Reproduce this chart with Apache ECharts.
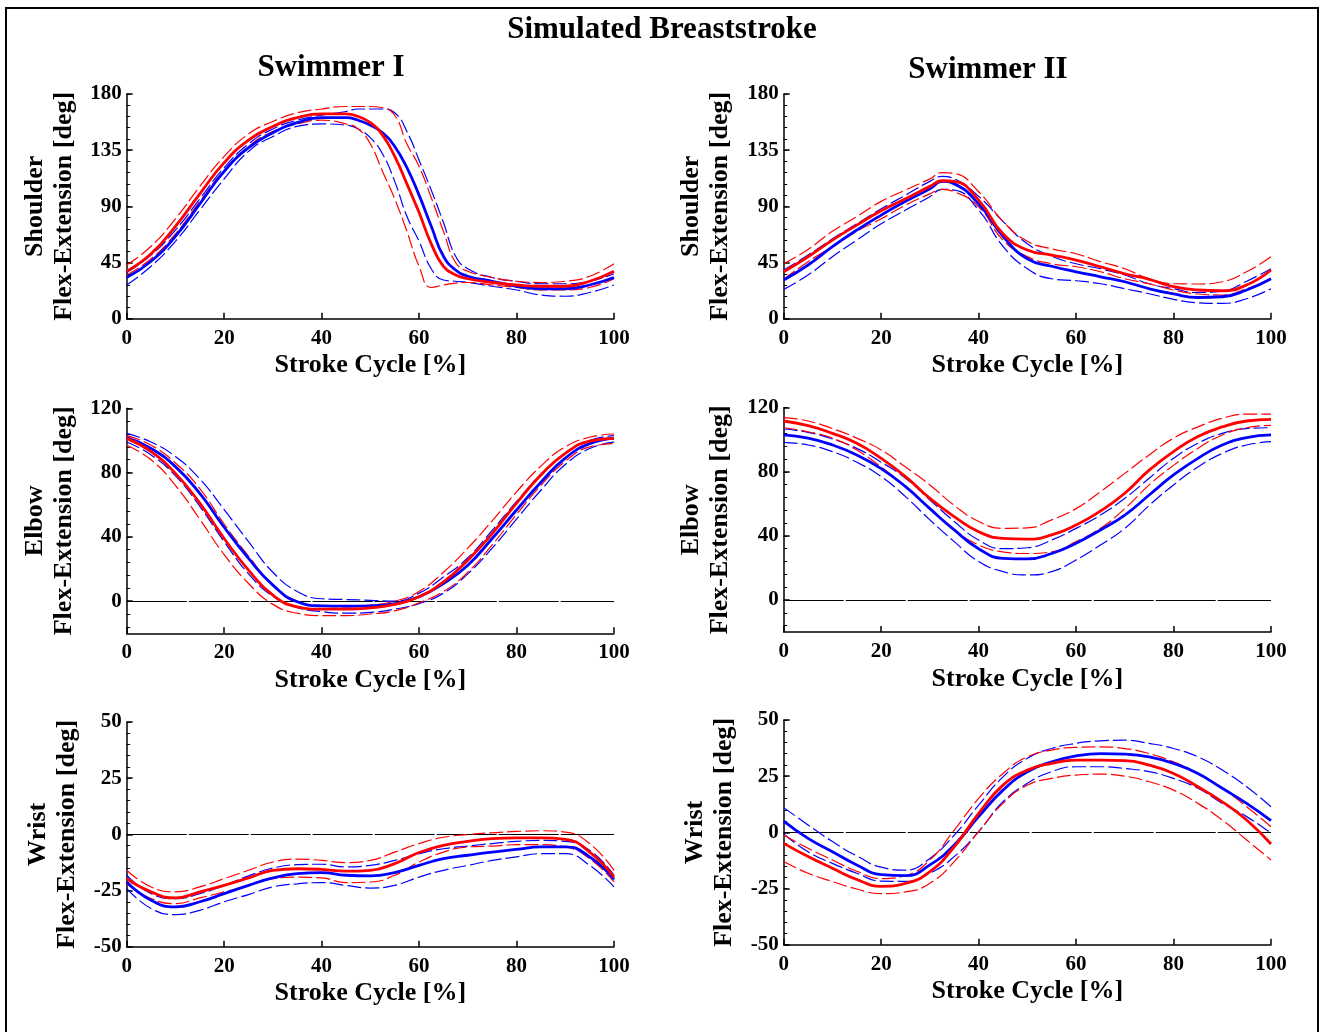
<!DOCTYPE html>
<html><head><meta charset="utf-8">
<script src="https://cdn.jsdelivr.net/npm/echarts@6/dist/echarts.min.js"></script>
<style>html,body{margin:0;padding:0;background:#fff}#c{width:1321px;height:1032px}</style>
</head><body><div id="c"></div>
<script>
// ---------- categories / x values (stroke cycle %) ----------
const strokePct = [0,5,10,15,20,25,30,35,40,45,50,55,60,65,70,75,80,85,90,95,100];
const strokePctShoulderI = [0,5,10,15,20,25,30,35,40,45,47.5,50,52.5,55,57.5,60,62.5,65,67.5,70,75,80,85,90,95,100];
const strokePctShoulderII = [0,5,10,15,20,25,30,32.5,35,40,45,50,55,60,65,70,75,80,85,90,95,100];

// ---------- tick labels ----------
const strokeTicks = [0,20,40,60,80,100];
const shoulderTicks = [0,45,90,135,180];
const elbowTicks = [0,40,80,120];
const wristTicks = [-50,-25,0,25,50];

// ---------- Swimmer I : Shoulder ----------
const s1ShoulderBlueMean  = [33,46,66,92,118,137,149,157,161,161,159,155,149,138,121,99,74,50,39,34,30,26,24,24,27,33];
const s1ShoulderBlueUpper = [37,51,71,96,121,140,152,159,163,166,168,168,168,165,150,127,103,77,50,40,33,30,28,28,30,36];
const s1ShoulderBlueLower = [27,42,62,87,112,134,146,154,156,155,152,145,132,110,82,62,40,31,30,29,26,23,19,18,21,27];
const s1ShoulderRedMean   = [38,52,74,100,125,143,154,161,164,164,162,157,147,130,108,85,60,42,35,32,29,27,26,26,30,38];
const s1ShoulderRedUpper  = [43,58,80,106,130,148,158,165,168,170,170,170,169,163,140,122,97,70,45,38,33,30,29,30,34,44];
const s1ShoulderRedLower  = [35,48,68,94,119,138,150,156,159,156,152,140,118,96,70,42,25,27,28.5,29,27,25,23,23,25,32];

// ---------- Swimmer II : Shoulder ----------
const s2ShoulderBlueMean  = [31,43,57.7,71,83,94,104,110,108,92,66,48,42,37.6,33.6,29.6,24,19.8,17,17.6,23,32];
const s2ShoulderBlueUpper = [39,51,64,76,88,99,110,114,112,98,78,60,50,44,40,35,28,24,21,22,30,40];
const s2ShoulderBlueLower = [23.5,35,49.7,63,76,87,97.7,103.6,103,87,58,40,32,30.4,28,24,20,15.5,12.8,12.3,16,24];
const s2ShoulderRedMean   = [37.6,49.6,63,75,86.5,96,106,110.5,110,95,68,55,51,47,41.6,36,31.5,25.6,23,22.4,27,39];
const s2ShoulderRedUpper  = [44,55.5,70,81.7,94,103,112,117,116.4,101.7,78,62,56,52,45.7,40,32,28,27.8,29.6,37.6,49.7];
const s2ShoulderRedLower  = [31.5,45.7,57.7,70,80,91,100,103.6,101.7,89.7,63,49.7,44,41.6,37.6,32,28,23,19.8,19,24,32];

// ---------- Swimmer I : Elbow ----------
const s1ElbowBlueMean  = [101.7,95,83.7,67,46,26.6,10,-0.4,-2.9,-3.1,-2.9,-1.5,2.7,11,22.4,39,56.7,74,89,98,101.3];
const s1ElbowBlueUpper = [104.4,99,90,76,57,37,18,6,1.5,1,0.5,0,5,15,27,44,62,79,92,100,103];
const s1ElbowBlueLower = [99,91,78,59,37,17,3,-4,-6.5,-7.5,-7,-5,-1.5,5,17,33,51,69,85,95,99];
const s1ElbowRedMean   = [101.3,93,79.5,61,39,19.3,3.7,-3.5,-5,-5,-4.2,-2,2.7,12,25.5,42,61,78.5,92,99.6,101.3];
const s1ElbowRedUpper  = [103,97,86,70,48,28,10,0,-3,-3.5,-2.5,0,6,18,33,50,68,84,96,102,104];
const s1ElbowRedLower  = [97,88,72,51,29,11,-2,-7.5,-9,-9,-8,-6,-1,6,18,35,54,72,87,96,98];

// ---------- Swimmer II : Elbow ----------
const s2ElbowBlueMean  = [103,101,96.7,90.5,82,70.7,57,43.7,32,26,25.6,29,35.4,43.7,53,65.5,78,88.4,96.7,101.3,103];
const s2ElbowBlueUpper = [106.7,104.6,100.5,94.6,86,76,62.4,49,37.4,32,32.6,37.4,44.7,53,63.4,76,88.4,97.8,104,107,107.5];
const s2ElbowBlueLower = [98.4,96.7,92.6,86,77,64.5,50,36.4,24,17.7,15.6,17.7,25,34.3,44.7,59,71.8,83,91.5,96.7,98.8];
const s2ElbowRedMean   = [111.7,108.8,104,97.8,88.4,77,63.4,52,42.6,38.5,38,40.6,46.8,55.5,66.6,81,92.6,102,108,111.7,112.7];
const s2ElbowRedUpper  = [113.8,111.7,107,101,93.6,83,71.8,59,49,44.7,45,50,57,67.6,79,90.5,101,108,113.4,116,116];
const s2ElbowRedLower  = [107.5,105,101,93.6,83,70.7,57,43.7,34.3,30,29,30,36.4,44.7,57,71.8,84,94.6,103,107.5,109];

// ---------- Swimmer I : Wrist ----------
const s1WristBlueMean  = [-21.2,-29.3,-32.3,-30,-26.4,-22.7,-19.4,-17.5,-17,-18.2,-18.5,-17,-13.8,-10.8,-9.3,-7.9,-6.7,-5.6,-5.6,-10,-20];
const s1WristBlueUpper = [-18.2,-26.4,-28.6,-26.4,-22.7,-18.5,-15,-13.5,-13.3,-14.5,-13.8,-11.6,-8.6,-6.4,-5.2,-4.1,-3.1,-2.7,-3.1,-7.1,-18.2];
const s1WristBlueLower = [-24,-33,-35.7,-33.8,-30,-26.8,-23.4,-22,-21.5,-22.7,-23.9,-22.7,-19,-16,-13.8,-11.6,-10,-8.6,-8.6,-13.8,-23.4];
const s1WristRedMean   = [-19.7,-25.6,-28.3,-25.6,-22.7,-19.4,-16,-15.3,-15.6,-16.4,-16,-13,-8.1,-4.9,-3.1,-1.9,-1.6,-1.6,-2.2,-7.9,-19];
const s1WristRedUpper  = [-16,-23.4,-25.6,-23.4,-19.7,-16,-12.3,-11,-11.6,-12.6,-11.6,-7.9,-4.1,-1.3,-0.1,0.7,1.3,1.6,1,-4.1,-16];
const s1WristRedLower  = [-22,-28.6,-30.8,-28.3,-25.6,-22.7,-19.7,-19,-19.4,-21.5,-21.2,-18.2,-12.3,-7.9,-5.6,-5.2,-4.6,-4.6,-5.6,-10.8,-21.2];

// ---------- Swimmer II : Wrist ----------
const s2WristBlueMean  = [5,-2.7,-8.6,-14.5,-18.8,-19.3,-14.5,-5.6,7,18.8,27,31.4,34,35,34.8,33.6,30.7,26.2,19.6,12.9,5.2];
const s2WristBlueUpper = [11,3.3,-4.1,-10.5,-15.5,-16.8,-11.6,-1.2,12.1,24.7,33,37.3,39.6,40.7,41,39.6,37.3,33.6,27.7,20.3,11.4];
const s2WristBlueLower = [-0.7,-8.6,-13.8,-18.2,-21.7,-21.8,-18.2,-10.8,0.3,13.6,21.8,27,29.2,29.2,28.4,27,24,19.6,12.9,7,-0.4];
const s2WristRedMean   = [-4.9,-10.8,-16,-21,-24,-22.7,-17.5,-6.4,8.4,21,27.7,30.7,32.1,32.1,31.9,29.9,26.2,20.3,13.6,5.5,-5.2];
const s2WristRedUpper  = [-1.2,-7.1,-12.3,-17.3,-20.6,-19.2,-12.3,1,15.1,26.2,33.6,36.6,37.8,38,37.3,35,31.4,26.2,19.6,11.4,2.5];
const s2WristRedLower  = [-13,-18.2,-21.9,-25.2,-27.3,-26.5,-22.7,-13,0.3,12.9,21,24,25.5,25.9,25,22.5,18.8,12.9,5.5,-3.4,-12.3];

// ---------- layout (positions / styles only) ----------
const FONT = "'Liberation Serif','Times New Roman',serif";
const panels = [
  {left:126.7, top:94,  w:487.3, h:224.7, min:0,   max:180, ticks:shoulderTicks, minorStep:9, name:'Shoulder\nFlex-Extension [deg]', gap:48, x:strokePctShoulderI,
   d:[s1ShoulderBlueUpper,s1ShoulderBlueLower,s1ShoulderRedUpper,s1ShoulderRedLower,s1ShoulderBlueMean,s1ShoulderRedMean], zero:false},
  {left:783.7, top:94,  w:487.3, h:224.7, min:0,   max:180, ticks:shoulderTicks, minorStep:9, name:'Shoulder\nFlex-Extension [deg]', gap:49, x:strokePctShoulderII,
   d:[s2ShoulderBlueUpper,s2ShoulderBlueLower,s2ShoulderRedUpper,s2ShoulderRedLower,s2ShoulderBlueMean,s2ShoulderRedMean], zero:false},
  {left:126.7, top:408.3, w:487.3, h:225, min:-20, max:120, ticks:elbowTicks, minorStep:8, name:'Elbow\nFlex-Extension [deg]', gap:48, x:strokePct,
   d:[s1ElbowBlueUpper,s1ElbowBlueLower,s1ElbowRedUpper,s1ElbowRedLower,s1ElbowBlueMean,s1ElbowRedMean], zero:true},
  {left:783.7, top:407.7, w:487.3, h:224.3, min:-20, max:120, ticks:elbowTicks, minorStep:8, name:'Elbow\nFlex-Extension [deg]', gap:49, x:strokePct,
   d:[s2ElbowBlueUpper,s2ElbowBlueLower,s2ElbowRedUpper,s2ElbowRedLower,s2ElbowBlueMean,s2ElbowRedMean], zero:true},
  {left:126.7, top:722, w:487.3, h:224.7, min:-50, max:50, ticks:wristTicks, minorStep:5, name:'Wrist\nFlex-Extension [deg]', gap:45, x:strokePct,
   d:[s1WristBlueUpper,s1WristBlueLower,s1WristRedUpper,s1WristRedLower,s1WristBlueMean,s1WristRedMean], zero:true},
  {left:783.7, top:720, w:487.3, h:224.7, min:-50, max:50, ticks:wristTicks, minorStep:5, name:'Wrist\nFlex-Extension [deg]', gap:45, x:strokePct,
   d:[s2WristBlueUpper,s2WristBlueLower,s2WristRedUpper,s2WristRedLower,s2WristBlueMean,s2WristRedMean], zero:true}
];

const grids = [], xAxes = [], yAxes = [], series = [];
const axisColor = '#000';
panels.forEach((p, i) => {
  grids.push({left:p.left, top:p.top, width:p.w, height:p.h, containLabel:false, outerBoundsMode:'none'});
  xAxes.push({
    gridIndex:i, type:'value', min:0, max:100, interval:20,
    axisLine:{show:true, onZero:false, lineStyle:{color:axisColor, width:1.5}},
    axisTick:{show:true, inside:true, length:6, customValues:strokeTicks, lineStyle:{color:axisColor, width:1.5}},
    axisLabel:{customValues:strokeTicks, color:'#000', fontFamily:FONT, fontWeight:'bold', fontSize:21, margin:9},
    splitLine:{show:false},
    name:'Stroke Cycle [%]', nameLocation:'middle', nameGap:34,
    nameTextStyle:{color:'#000', fontFamily:FONT, fontWeight:'bold', fontSize:26}
  });
  const minors = [];
  for (let k = Math.ceil(p.min / p.minorStep); k * p.minorStep <= p.max; k++) minors.push(k * p.minorStep);
  yAxes.push({
    gridIndex:i, type:'value', min:p.min, max:p.max, position:'left', offset:0,
    axisLine:{show:true, onZero:false, lineStyle:{color:axisColor, width:1.5}},
    axisTick:{show:true, inside:true, length:6, customValues:p.ticks, lineStyle:{color:axisColor, width:1.5}},
    axisLabel:{customValues:p.ticks, color:'#000', fontFamily:FONT, fontWeight:'bold', fontSize:21, margin:5},
    splitLine:{show:false},
    name:p.name, nameLocation:'middle', nameRotate:90, nameGap:p.gap,
    nameTextStyle:{color:'#000', fontFamily:FONT, fontWeight:'bold', fontSize:26, lineHeight:29, align:'center'}
  });
  yAxes.push({
    gridIndex:i, type:'value', min:p.min, max:p.max, position:'left', offset:0,
    axisLine:{show:false, onZero:false},
    axisTick:{show:true, inside:true, length:3.5, customValues:minors, lineStyle:{color:axisColor, width:1}},
    axisLabel:{show:false}, splitLine:{show:false}
  });
  const styles = [
    {c:'#0000ff', w:1.2, t:[14,4]}, {c:'#0000ff', w:1.2, t:[14,4]},
    {c:'#ff0000', w:1.2, t:[14,4]}, {c:'#ff0000', w:1.2, t:[14,4]},
    {c:'#0000ff', w:2.8, t:'solid'}, {c:'#ff0000', w:2.8, t:'solid'}
  ];
  p.d.forEach((vals, j) => {
    const s = {
      type:'line', xAxisIndex:i, yAxisIndex:i*2, showSymbol:false, symbol:'none', smooth:0.5,
      data:p.x.map((x, k) => [x, vals[k]]),
      lineStyle:{color:styles[j].c, width:styles[j].w, type:styles[j].t},
      z: 3 + j, silent:true
    };
    if (j === 0 && p.zero) {
      s.markLine = {silent:true, symbol:'none', label:{show:false}, animation:false,
        lineStyle:{color:'#000', width:1.2, type:[60,2]}, data:[{yAxis:0}], z:1};
    }
    series.push(s);
  });
});

const chart = echarts.init(document.getElementById('c'));
chart.setOption({
  animation:false,
  backgroundColor:'#fff',
  title:[
    {text:'Simulated Breaststroke', left:662, top:14, textAlign:'center', padding:0,
     textStyle:{fontFamily:FONT, fontWeight:'bold', fontSize:31, color:'#000'}},
    {text:'Swimmer I', left:331, top:52, textAlign:'center', padding:0,
     textStyle:{fontFamily:FONT, fontWeight:'bold', fontSize:31, color:'#000'}},
    {text:'Swimmer II', left:988, top:54, textAlign:'center', padding:0,
     textStyle:{fontFamily:FONT, fontWeight:'bold', fontSize:31, color:'#000'}}
  ],
  graphic:[{type:'rect', shape:{x:6, y:8, width:1312, height:1040}, style:{fill:'none', stroke:'#000', lineWidth:2}, z:100}],
  grid:grids, xAxis:xAxes, yAxis:yAxes, series:series
});
</script></body></html>
